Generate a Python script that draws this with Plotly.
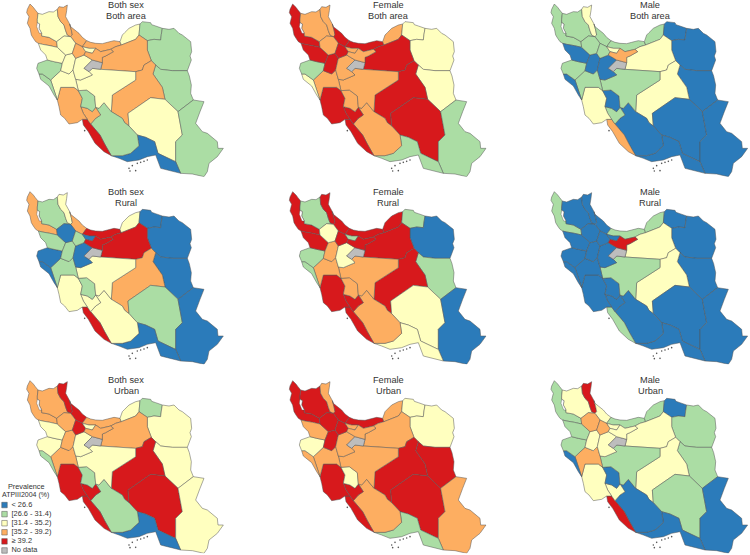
import plotly.graph_objects as go

# ---- province outlines (map units) ----
WEST_AZ = [(68,12),(78,22),(84,30),(92,40),(90,58),(90,68),(97,72),(95,85),(103,100),(103,108),(125,112),(148,125),(150,142),(128,137),(105,133),(93,130),(85,125),(78,115),(72,105),(68,85),(60,70),(65,50),(58,38),(60,28)]
EAST_AZ = [(92,40),(105,43),(125,35),(138,36),(150,28),(152,50),(160,65),(170,75),(175,92),(180,105),(190,110),(170,108),(148,125),(125,112),(103,108),(103,100),(95,85),(97,72),(90,68),(90,58)]
ARDABIL = [(150,28),(155,20),(168,22),(180,15),(178,32),(175,50),(187,72),(192,90),(195,105),(190,110),(180,105),(175,92),(170,75),(160,65),(152,50)]
GILAN = [(187,72),(190,80),(200,88),(215,100),(225,112),(238,122),(225,140),(205,130),(190,110),(195,105),(192,90)]
MAZANDARAN = [(238,122),(250,127),(265,130),(285,131),(300,127),(320,122),(338,125),(342,135),(325,140),(310,148),(280,155),(265,145),(245,145),(225,140)]
GOLESTAN = [(338,125),(345,105),(352,98),(365,85),(385,75),(398,72),(395,105),(385,118),(342,135)]
N_KHORASAN = [(398,72),(405,65),(430,68),(433,74),(445,78),(465,85),(462,103),(460,120),(440,118),(420,122),(395,105)]
RAZAVI = [(420,122),(440,118),(460,120),(462,103),(465,85),(485,88),(500,85),(515,100),(525,105),(550,125),(553,155),(548,168),(552,180),(540,212),(495,212),(460,208),(445,195),(432,182),(420,150)]
SEMNAN = [(280,208),(285,188),(285,172),(295,168),(318,155),(310,148),(325,140),(342,135),(385,118),(395,105),(420,122),(420,150),(432,182),(410,195),(405,210),(385,215)]
S_KHORASAN = [(445,195),(460,208),(495,212),(540,212),(546,228),(552,255),(550,280),(558,300),(512,335),(473,298),(465,262),(437,222)]
YAZD = [(385,215),(405,210),(410,195),(432,182),(445,195),(437,222),(465,262),(473,298),(430,293),(362,340),(365,378),(352,368),(345,355),(312,335),(315,285),(385,240)]
KERMAN = [(362,340),(430,293),(473,298),(512,335),(525,405),(505,425),(505,485),(498,482),(452,460),(442,425),(415,412),(390,405),(365,378)]
SISTAN = [(512,335),(558,300),(590,305),(578,335),(565,370),(585,395),(600,400),(630,425),(632,445),(648,445),(630,470),(605,490),(600,515),(590,530),(555,522),(520,520),(505,485),(505,425),(525,405)]
HORMOZGAN = [(390,405),(415,412),(442,425),(452,460),(498,482),(505,485),(520,520),(480,510),(460,505),(445,465),(420,470),(395,480),(360,485),(335,475),(312,467),(345,467),(370,460),(395,437)]
FARS = [(280,345),(265,322),(275,325),(290,308),(312,335),(345,355),(352,368),(365,378),(390,405),(395,437),(370,460),(345,467),(312,467),(305,455),(292,432),(278,405),(250,372),(265,355)]
BUSHEHR = [(225,358),(240,358),(250,372),(278,405),(292,432),(305,455),(312,467),(290,455),(263,430),(243,395),(228,375)]
KOHGILUYEH = [(220,320),(240,325),(255,335),(265,322),(280,345),(265,355),(250,372),(240,358),(228,340)]
KHUZESTAN = [(150,300),(160,262),(200,262),(213,272),(225,295),(220,320),(228,340),(240,358),(225,358),(210,368),(185,372),(172,355),(160,345),(155,320)]
CHAHARMAHAL = [(213,272),(238,270),(262,288),(265,322),(255,335),(240,325),(220,320),(225,295)]
ISFAHAN = [(385,215),(385,240),(315,285),(312,335),(290,308),(275,325),(265,322),(262,288),(238,270),(213,272),(205,238),(220,240),(255,225),(245,215),(255,205),(280,208)]
LORESTAN = [(130,240),(160,212),(185,222),(197,210),(205,238),(213,272),(200,262),(160,262),(150,300)]
ILAM = [(95,222),(105,222),(130,240),(150,300),(140,285),(125,258),(100,238)]
KERMANSHAH = [(88,205),(92,190),(120,180),(140,185),(165,190),(160,212),(130,240),(105,222),(95,222)]
KURDISTAN = [(93,130),(105,133),(128,137),(150,142),(175,165),(165,190),(140,185),(120,180),(115,165),(100,150)]
HAMADAN = [(165,190),(175,165),(195,160),(205,175),(197,210),(185,222),(160,212)]
MARKAZI = [(197,210),(205,175),(230,165),(255,180),(230,205),(245,215),(255,225),(220,240),(205,238)]
QOM = [(230,205),(255,180),(285,188),(280,208),(255,205),(245,215)]
ZANJAN = [(148,125),(170,108),(190,110),(205,130),(195,160),(175,165),(150,142)]
QAZVIN = [(205,130),(225,140),(235,155),(230,165),(205,175),(195,160)]
ALBORZ = [(225,140),(245,145),(265,145),(255,160),(235,155)]
TEHRAN = [(265,145),(280,155),(310,148),(318,155),(295,168),(285,172),(285,188),(255,180),(230,165),(235,155),(255,160)]
LAKE_URMIA = [(90,68),(97,72),(95,85),(103,100),(96,100),(88,80)]
ISLAND_X = [232,365,368,385,375,390,400,410,420]
ISLAND_Y = [392,505,513,512,497,490,487,484,480]

PROVINCES = [WEST_AZ,EAST_AZ,ARDABIL,GILAN,MAZANDARAN,GOLESTAN,N_KHORASAN,RAZAVI,SEMNAN,S_KHORASAN,YAZD,KERMAN,SISTAN,HORMOZGAN,FARS,BUSHEHR,KOHGILUYEH,KHUZESTAN,CHAHARMAHAL,ISFAHAN,LORESTAN,ILAM,KERMANSHAH,KURDISTAN,HAMADAN,MARKAZI,QOM,ZANJAN,QAZVIN,ALBORZ,TEHRAN]
NAMES = ["West Azerbaijan","East Azerbaijan","Ardabil","Gilan","Mazandaran","Golestan","North Khorasan","Razavi Khorasan","Semnan","South Khorasan","Yazd","Kerman","Sistan-Baluchestan","Hormozgan","Fars","Bushehr","Kohgiluyeh","Khuzestan","Chaharmahal","Isfahan","Lorestan","Ilam","Kermanshah","Kurdistan","Hamadan","Markazi","Qom","Zanjan","Qazvin","Alborz","Tehran"]

# ---- prevalence class per province (0 = no data, 1..5 = legend classes) ----
BOTH_BOTH   = [4,3,4,4,4,3,2,2,4,2,4,3,2,1,2,5,4,4,2,3,3,2,2,3,3,3,0,3,4,3,4]
BOTH_RURAL  = [4,2,3,4,5,3,1,1,5,1,4,2,1,1,3,5,3,3,2,3,2,1,1,2,2,1,0,1,2,1,5]
BOTH_URBAN  = [4,4,5,5,4,3,2,3,4,3,5,5,3,1,2,5,5,5,2,3,4,2,3,3,4,3,0,4,5,3,4]
FEMALE_BOTH = [5,4,4,5,5,4,3,3,5,3,5,5,2,2,4,5,5,5,4,4,4,3,2,5,5,4,0,4,5,4,4]
FEMALE_RURAL= [5,2,5,5,5,5,2,1,5,2,5,3,1,3,4,5,5,5,4,4,4,2,2,5,4,3,0,3,5,2,5]
FEMALE_URBAN= [5,5,4,5,5,4,3,3,4,5,5,5,4,2,4,5,5,5,3,4,4,4,3,4,5,4,0,5,5,4,4]
MALE_BOTH   = [2,2,3,2,2,2,1,1,3,1,3,1,1,1,1,4,2,3,1,2,2,1,2,1,1,1,0,2,2,3,4]
MALE_RURAL  = [2,1,1,1,2,2,1,1,3,1,3,1,1,1,1,2,1,1,1,2,1,1,1,1,1,1,0,1,1,1,5]
MALE_URBAN  = [2,3,5,3,2,2,1,2,3,2,3,2,1,1,1,5,3,3,1,2,4,1,2,2,3,3,0,4,4,3,3]

PANELS = [BOTH_BOTH,FEMALE_BOTH,MALE_BOTH,BOTH_RURAL,FEMALE_RURAL,MALE_RURAL,BOTH_URBAN,FEMALE_URBAN,MALE_URBAN]
SEXES = ["Both sex","Female","Male"]
AREAS = ["Both area","Rural","Urban"]
LEGEND_TITLE = ["Prevalence","ATPIII2004 (%)"]
LEGEND_LABELS = ["< 26.6","[26.6 - 31.4)","[31.4 - 35.2)","[35.2 - 39.2)","≥ 39.2","No data"]
LEGEND_ORDER = [1,2,3,4,5,0]

COLORS = {0:"#bdbdbd",1:"#2b7bba",2:"#abdda4",3:"#ffffbf",4:"#fdae61",5:"#d7191c"}
LINE = "#555555"
TEXT = "#333333"
W, H = 750, 555
COL_OX = [7.33, 270, 531.67]
ROW_OY = [0, 187.67, 376.67]
SCALE = 3
RX, RY = 650, 530
TITLE_CX = [126, 388, 650]
TITLE_Y = [4.5, 192, 379.5]
TITLE_GAP = 11
FONT = "Liberation Sans, Arial, sans-serif"

def note(text, px, py, size, anchor="center"):
    return dict(text=text, x=px/W, y=1-py/H, xref="paper", yref="paper", xanchor=anchor, yanchor="middle",
                showarrow=False, font=dict(family=FONT, size=size, color=TEXT), align="center")

fig = go.Figure()
layout = {}
annots = []
for r in range(3):
    for c in range(3):
        n = r*3 + c + 1
        sfx = "" if n == 1 else str(n)
        xd = [COL_OX[c]/W, (COL_OX[c]+RX/SCALE)/W]
        yd = [1-(ROW_OY[r]+RY/SCALE)/H, 1-ROW_OY[r]/H]
        layout["xaxis"+sfx] = dict(domain=xd, range=[0,RX], visible=False, fixedrange=True)
        layout["yaxis"+sfx] = dict(domain=yd, range=[RY,0], visible=False, fixedrange=True, anchor="x"+sfx)
        vals = PANELS[r*3+c]
        for name, ring, v in zip(NAMES, PROVINCES, vals):
            xs = [p[0] for p in ring] + [ring[0][0]]
            ys = [p[1] for p in ring] + [ring[0][1]]
            fig.add_trace(go.Scatter(x=xs, y=ys, mode="lines", fill="toself", fillcolor=COLORS[v],
                                     line=dict(color=LINE, width=0.5, simplify=False), name=name, showlegend=False,
                                     hoveron="fills", xaxis="x"+sfx, yaxis="y"+sfx))
        lx = [p[0] for p in LAKE_URMIA] + [LAKE_URMIA[0][0]]
        ly = [p[1] for p in LAKE_URMIA] + [LAKE_URMIA[0][1]]
        fig.add_trace(go.Scatter(x=lx, y=ly, mode="lines", fill="toself", fillcolor="white",
                                 line=dict(color=LINE, width=0.4), showlegend=False, hoverinfo="skip",
                                 xaxis="x"+sfx, yaxis="y"+sfx))
        fig.add_trace(go.Scatter(x=ISLAND_X, y=ISLAND_Y, mode="markers",
                                 marker=dict(size=1.6, color="#555555"), showlegend=False, hoverinfo="skip",
                                 xaxis="x"+sfx, yaxis="y"+sfx))
        annots.append(note(SEXES[c], TITLE_CX[c], TITLE_Y[r], 9.2))
        annots.append(note(AREAS[r], TITLE_CX[c], TITLE_Y[r]+TITLE_GAP, 9.2))

# legend panel
layout["xaxis10"] = dict(domain=[0,0.16], range=[0,120], visible=False, fixedrange=True)
layout["yaxis10"] = dict(domain=[1-555/H, 1-500.5/H], range=[5.5,-0.5], visible=False, fixedrange=True, anchor="x10")
fig.add_trace(go.Scatter(x=[4.5]*6, y=list(range(6)), mode="markers",
                         marker=dict(symbol="square", size=5.5, color=[COLORS[k] for k in LEGEND_ORDER],
                                     line=dict(color=LINE, width=0.5)),
                         showlegend=False, hoverinfo="skip", xaxis="x10", yaxis="y10"))
fig.add_trace(go.Scatter(x=[11.5]*6, y=list(range(6)), mode="text", text=LEGEND_LABELS,
                         textposition="middle right",
                         textfont=dict(family=FONT, size=7.4, color=TEXT),
                         showlegend=False, hoverinfo="skip", xaxis="x10", yaxis="y10"))
annots.append(note(LEGEND_TITLE[0], 26, 486, 7.3))
annots.append(note(LEGEND_TITLE[1], 25, 495, 7.0))

fig.update_layout(width=W, height=H, margin=dict(l=0,r=0,t=0,b=0), paper_bgcolor="white", plot_bgcolor="rgba(0,0,0,0)",
                  annotations=annots, showlegend=False, **layout)
fig.write_html("out.html", config={"displayModeBar": False},
               post_script="document.body.style.margin='0';document.documentElement.style.overflow='hidden';")
